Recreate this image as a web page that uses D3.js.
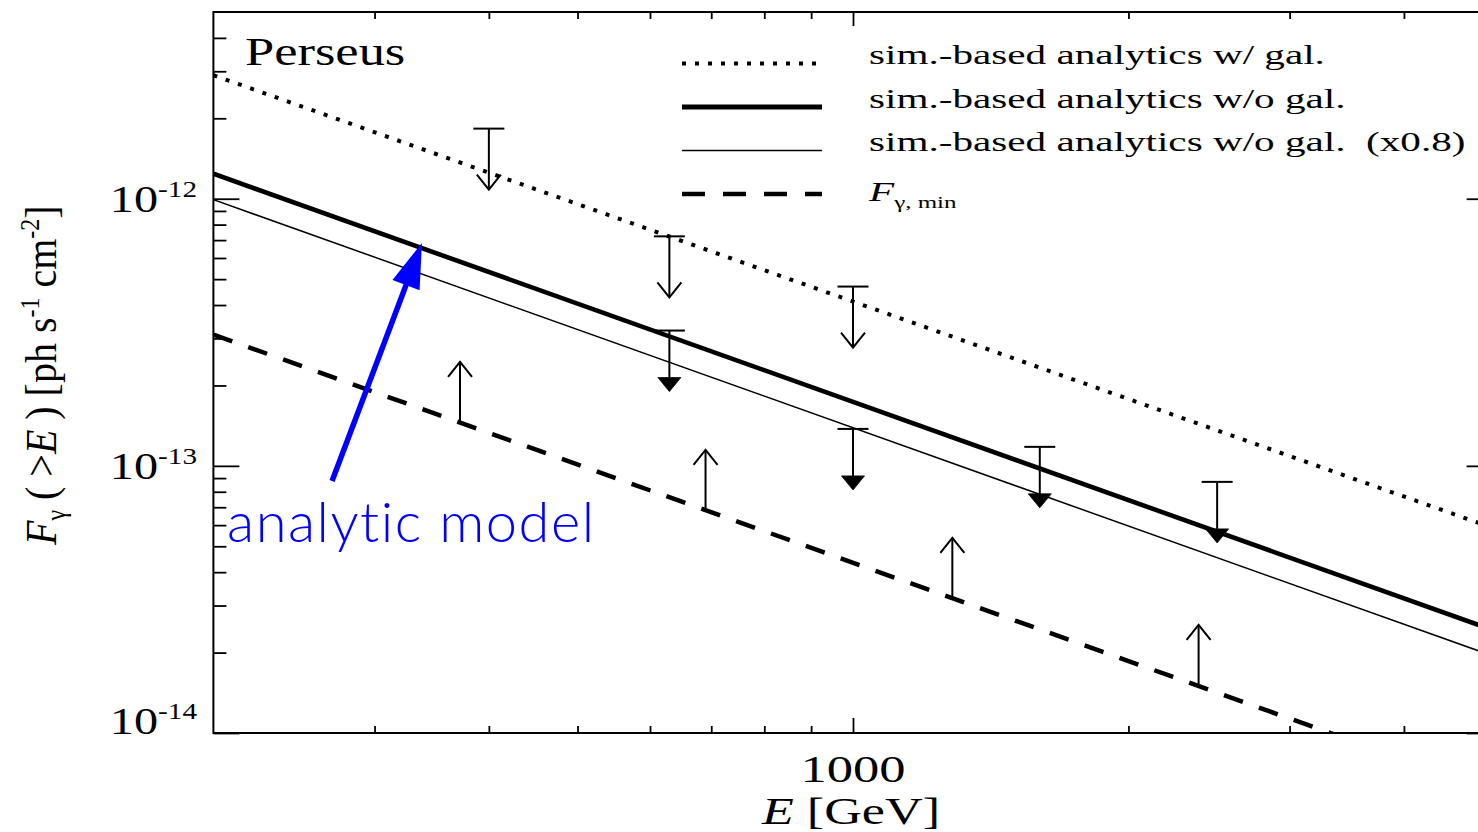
<!DOCTYPE html>
<html><head><meta charset="utf-8">
<script src="https://cdn.jsdelivr.net/npm/d3@7"></script>
<style>
html,body{margin:0;padding:0;background:#fff;}
svg{display:block;}
text{white-space:pre;}
</style></head><body>
<svg id="chart" width="1478" height="832"></svg>
<script>
// ---- axis ranges ----
const energyRange = [200, 5000];      // E [GeV]
const fluxRange = [1e-14, 5e-12];     // F(>E) [ph s^-1 cm^-2]

// ---- model curves: power laws, given at the two end energies ----
const modelEnergy = [200, 5000];
const fluxWithGal = [2.90e-12, 5.86e-14];
const fluxWithoutGal = [1.24e-12, 2.43e-14];
const scaledFactor = 0.8;
const fluxScaled = fluxWithoutGal.map(v => v * scaledFactor);
const fluxMin = [3.10e-13, 6.07e-15];

// ---- upper limits (open heads) ----
const ulOpenEnergy = [400, 630, 1000];
const ulOpenFlux = [1.83e-12, 7.23e-13, 4.69e-13];
// ---- upper limits (filled heads) ----
const ulFilledEnergy = [630, 1000, 1600, 2500];
const ulFilledFlux = [3.21e-13, 1.375e-13, 1.178e-13, 8.71e-14];
// ---- lower limits ----
const llEnergy = [372, 690, 1284, 2386];
const llFlux = [1.45e-13, 6.78e-14, 3.18e-14, 1.50e-14];

// ---- ticks ----
const xMajorTicks = [1000];
const xTickLabels = ["1000"];
const xMinorTicks = [300, 400, 500, 600, 700, 800, 900, 2000, 3000, 4000];
const yMajorTicks = [1e-14, 1e-13, 1e-12];
const yTickExponents = ["-14", "-13", "-12"];
const yMinorTicks = [2e-14, 3e-14, 4e-14, 5e-14, 6e-14, 7e-14, 8e-14, 9e-14,
                     2e-13, 3e-13, 4e-13, 5e-13, 6e-13, 7e-13, 8e-13, 9e-13,
                     2e-12, 3e-12, 4e-12];

// ---- legend ----
const legendLabels = ["sim.-based analytics w/ gal.",
                      "sim.-based analytics w/o gal.",
                      "sim.-based analytics w/o gal.  (x0.8)"];

// ---- annotation (data coordinates) ----
const noteText = "analytic model";
const noteTextAt = [207, 5.19e-14];
const noteArrowFrom = [269.6, 8.78e-14];
const noteArrowTo = [338, 6.83e-13];

// ================= drawing =================
const svg = d3.select("#chart");
const pL = 213.4, pR = 1492.6, pT = 12, pB = 733;

const x = d3.scaleLog().domain(energyRange).range([pL, pR]);
const y = d3.scaleLog().domain(fluxRange).range([pB, pT]);

const serif = "'Liberation Serif','Times New Roman',Times,serif";

svg.append("defs").append("clipPath").attr("id", "plotClip")
  .append("rect").attr("x", pL).attr("y", pT)
  .attr("width", pR - pL).attr("height", pB - pT);

// axes (ticks point inward)
function styleAxis(g) {
  g.select(".domain").remove();
  g.selectAll(".tick line").attr("stroke", "#000").attr("stroke-width", 1.8);
  g.selectAll(".tick text").remove();
}
const axes = svg.append("g");
axes.append("g").attr("transform", `translate(${pL},0)`)
  .call(d3.axisLeft(y).tickValues(yMajorTicks).tickSize(-26).tickFormat(""))
  .call(styleAxis);
axes.append("g").attr("transform", `translate(${pL},0)`)
  .call(d3.axisLeft(y).tickValues(yMinorTicks).tickSize(-13).tickFormat(""))
  .call(styleAxis);
axes.append("g").attr("transform", `translate(${pR},0)`)
  .call(d3.axisRight(y).tickValues(yMajorTicks).tickSize(-26).tickFormat(""))
  .call(styleAxis);
axes.append("g").attr("transform", `translate(${pR},0)`)
  .call(d3.axisRight(y).tickValues(yMinorTicks).tickSize(-13).tickFormat(""))
  .call(styleAxis);
axes.append("g").attr("transform", `translate(0,${pB})`)
  .call(d3.axisBottom(x).tickValues(xMajorTicks).tickSize(-15).tickFormat(""))
  .call(styleAxis);
axes.append("g").attr("transform", `translate(0,${pB})`)
  .call(d3.axisBottom(x).tickValues(xMinorTicks).tickSize(-7).tickFormat(""))
  .call(styleAxis);
axes.append("g").attr("transform", `translate(0,${pT})`)
  .call(d3.axisTop(x).tickValues(xMajorTicks).tickSize(-14).tickFormat(""))
  .call(styleAxis);
axes.append("g").attr("transform", `translate(0,${pT})`)
  .call(d3.axisTop(x).tickValues(xMinorTicks).tickSize(-7).tickFormat(""))
  .call(styleAxis);

// frame
svg.append("rect").attr("x", pL).attr("y", pT)
  .attr("width", pR - pL).attr("height", pB - pT)
  .attr("fill", "none").attr("stroke", "#000").attr("stroke-width", 2);

// stretched text helper
function sText(parent, px, py, sx, size) {
  return parent.append("text")
    .attr("transform", `translate(${px},${py}) scale(${sx},1)`)
    .attr("font-family", serif).attr("font-size", size).attr("fill", "#000");
}

// y tick labels
yMajorTicks.forEach((v, i) => {
  const t = sText(svg, 197, Math.min(y(v) + 13, pB + 1), 1.27, 38)
    .attr("text-anchor", "end");
  t.append("tspan").text("10");
  t.append("tspan").attr("font-size", 23).attr("dy", -15).text(yTickExponents[i]);
});

// x tick labels
xMajorTicks.forEach((v, i) => {
  sText(svg, x(v), 782, 1.42, 37).attr("text-anchor", "middle").text(xTickLabels[i]);
});

// x title
{
  const t = sText(svg, 851, 824, 1.41, 37).attr("text-anchor", "middle");
  t.append("tspan").attr("font-style", "italic").text("E");
  t.append("tspan").text(" [GeV]");
}

// y title
{
  const t = svg.append("text")
    .attr("transform", "translate(56,545) scale(1.13,1) rotate(-90)")
    .attr("font-family", serif).attr("font-size", 40).attr("fill", "#000");
  t.append("tspan").attr("font-style", "italic").text("F");
  t.append("tspan").attr("font-size", 24).attr("dy", 8).text("γ");
  t.append("tspan").attr("dy", -8).text(" ( >");
  t.append("tspan").attr("font-style", "italic").text("E");
  t.append("tspan").text(" ) [ph s");
  t.append("tspan").attr("font-size", 24).attr("dy", -15).text("-1");
  t.append("tspan").attr("dy", 15).text(" cm");
  t.append("tspan").attr("font-size", 24).attr("dy", -15).text("-2");
  t.append("tspan").attr("dy", 15).text("]");
}

// panel name
sText(svg, 245, 65, 1.28, 41).text("Perseus");

// model curves
const plot = svg.append("g").attr("clip-path", "url(#plotClip)");
const line = d3.line().x(d => x(d[0])).y(d => y(d[1]));
const curves = [
  { f: fluxWithGal, w: 4, dash: "4,9" },
  { f: fluxWithoutGal, w: 4.6, dash: null },
  { f: fluxScaled, w: 1.5, dash: null },
  { f: fluxMin, w: 4.5, dash: "20,17" }
];
curves.forEach(c => {
  plot.append("path")
    .attr("d", line(d3.zip(modelEnergy, c.f)))
    .attr("fill", "none").attr("stroke", "#000")
    .attr("stroke-width", c.w)
    .attr("stroke-dasharray", c.dash);
});

// limit arrows
const ARROW_LEN = 61, CAP_HALF = 15.5, HEAD_W = 12, HEAD_H = 15;
const marks = svg.append("g").attr("stroke", "#000").attr("stroke-width", 2).attr("fill", "none");

ulOpenEnergy.forEach((e, i) => {
  const cx = x(e), y0 = y(ulOpenFlux[i]), tip = y0 + ARROW_LEN;
  marks.append("line").attr("x1", cx - CAP_HALF).attr("x2", cx + CAP_HALF).attr("y1", y0).attr("y2", y0);
  marks.append("line").attr("x1", cx).attr("x2", cx).attr("y1", y0).attr("y2", tip);
  marks.append("polyline").attr("points", `${cx - HEAD_W},${tip - HEAD_H} ${cx},${tip} ${cx + HEAD_W},${tip - HEAD_H}`);
});

ulFilledEnergy.forEach((e, i) => {
  const cx = x(e), y0 = y(ulFilledFlux[i]), tip = y0 + ARROW_LEN;
  marks.append("line").attr("x1", cx - CAP_HALF).attr("x2", cx + CAP_HALF).attr("y1", y0).attr("y2", y0);
  marks.append("line").attr("x1", cx).attr("x2", cx).attr("y1", y0).attr("y2", tip - 14);
  marks.append("polygon")
    .attr("points", `${cx - 11.5},${tip - 14} ${cx + 11.5},${tip - 14} ${cx},${tip}`)
    .attr("fill", "#000").attr("stroke-width", 0.8);
});

llEnergy.forEach((e, i) => {
  const cx = x(e), y0 = y(llFlux[i]), tip = y0 - ARROW_LEN;
  marks.append("line").attr("x1", cx).attr("x2", cx).attr("y1", y0).attr("y2", tip);
  marks.append("polyline").attr("points", `${cx - HEAD_W},${tip + HEAD_H} ${cx},${tip} ${cx + HEAD_W},${tip + HEAD_H}`);
});

// legend
const legendY = [63.5, 107, 150.5, 194];
const legendStyles = [
  { w: 4, dash: "4,9" },
  { w: 4.8, dash: null },
  { w: 1.5, dash: null },
  { w: 4.5, dash: "23,18" }
];
legendStyles.forEach((s, i) => {
  svg.append("line").attr("x1", 682).attr("x2", 822)
    .attr("y1", legendY[i]).attr("y2", legendY[i])
    .attr("stroke", "#000").attr("stroke-width", s.w)
    .attr("stroke-dasharray", s.dash);
});
legendLabels.forEach((lab, i) => {
  sText(svg, 869, legendY[i] + 0.5, 1.47, 28).text(lab);
});
{
  const t = sText(svg, 869, legendY[3] + 7, 1.47, 28);
  t.append("tspan").attr("font-style", "italic").text("F");
  t.append("tspan").attr("font-size", 17).attr("dy", 7).text("γ, min");
}

// annotation
{
  const x0 = x(noteArrowFrom[0]), y0 = y(noteArrowFrom[1]);
  const x1 = x(noteArrowTo[0]), y1 = y(noteArrowTo[1]);
  const dx = x1 - x0, dy = y1 - y0, L = Math.hypot(dx, dy);
  const ux = dx / L, uy = dy / L, px = -uy, py = ux;
  const headLen = 45, headHalf = 14.5;
  const bx = x1 - ux * headLen, by = y1 - uy * headLen;
  svg.append("line").attr("x1", x0).attr("y1", y0).attr("x2", bx + ux * 2).attr("y2", by + uy * 2)
    .attr("stroke", "#0000ff").attr("stroke-width", 5.5);
  svg.append("polygon")
    .attr("points", `${x1},${y1} ${bx + px * headHalf},${by + py * headHalf} ${bx - px * headHalf},${by - py * headHalf}`)
    .attr("fill", "#0000ff");
  svg.append("text").attr("x", x(noteTextAt[0])).attr("y", y(noteTextAt[1]))
    .attr("font-family", "Lato, 'Open Sans', sans-serif").attr("font-weight", 300)
    .attr("font-size", 56).attr("letter-spacing", 1.5).attr("fill", "#0000ff")
    .text(noteText);
}
</script>
</body></html>
